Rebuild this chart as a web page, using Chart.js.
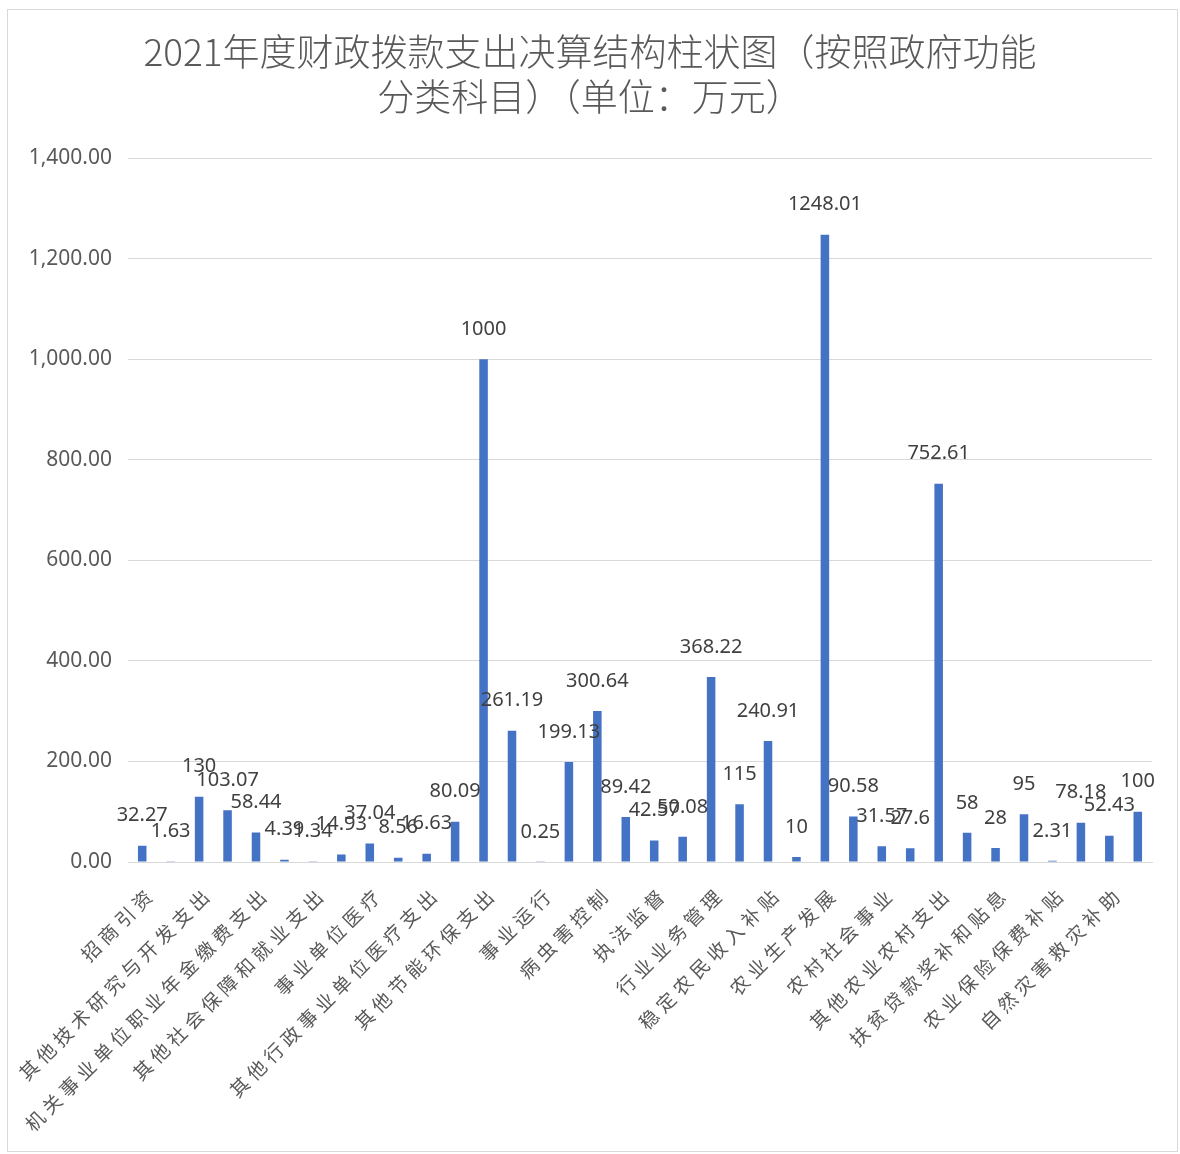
<!DOCTYPE html>
<html>
<head>
<meta charset="utf-8">
<script src="https://cdn.jsdelivr.net/npm/chart.js@4.4.0/dist/chart.umd.min.js"></script>
<style>
html,body{margin:0;padding:0;background:#fff;}
#wrap{position:absolute;left:0;top:0;width:1180px;height:1154px;}
</style>
</head>
<body>
<div id="wrap"><canvas id="c"></canvas></div>
<script>
const titleLines = ['2021年度财政拨款支出决算结构柱状图（按照政府功能', '分类科目）（单位：万元）'];

const categories = [
  '招商引资', '其他商贸事务支出', '其他技术研究与开发支出', '机关事业单位基本养老保险缴费支出',
  '机关事业单位职业年金缴费支出', '死亡抚恤', '其他社会保障和就业支出', '行政单位医疗',
  '事业单位医疗', '公务员医疗补助', '其他行政事业单位医疗支出', '其他卫生健康支出',
  '其他节能环保支出', '行政运行', '事业运行', '科技转化与推广服务',
  '病虫害控制', '农产品质量安全', '执法监督', '统计监测与信息服务',
  '行业业务管理', '防灾救灾', '稳定农民收入补贴', '农业结构调整补贴',
  '农业生产发展', '农村合作经济', '农村社会事业', '农业资源保护修复与利用',
  '其他农业农村支出', '对村民委员会和村党支部的补助', '扶贫贷款奖补和贴息', '其他扶贫支出',
  '农业保险保费补贴', '其他灾害防治及应急管理支出', '自然灾害救灾补助', '其他自然灾害救灾支出'
];

const values = [
  32.27, 1.63, 130, 103.07,
  58.44, 4.39, 1.34, 14.93,
  37.04, 8.56, 16.63, 80.09,
  1000, 261.19, 0.25, 199.13,
  300.64, 89.42, 42.57, 50.08,
  368.22, 115, 240.91, 10,
  1248.01, 90.58, 31.57, 27.6,
  752.61, 58, 28, 95,
  2.31, 78.18, 52.43, 100
];

const yMin = 0, yMax = 1400, yStep = 200;

const framePlugin = {
  id: 'frame',
  beforeDraw(chart) {
    const ctx = chart.ctx;
    ctx.fontKerning = 'none';
    ctx.save();
    ctx.fillStyle = '#ffffff';
    ctx.fillRect(0, 0, chart.width, chart.height);
    ctx.strokeStyle = '#d9d9d9';
    ctx.lineWidth = 1;
    ctx.strokeRect(7.5, 9.5, 1170, 1142);
    ctx.restore();
    // wider character spacing for the rotated category labels
    const xs = chart.scales.x;
    if (xs && !xs._spaced) {
      const orig = xs.drawLabels;
      xs.drawLabels = function (area) {
        const c = this.ctx;
        const prev = c.letterSpacing;
        c.letterSpacing = '5px';
        orig.call(this, area);
        c.letterSpacing = prev || '0px';
      };
      xs._spaced = true;
    }
  }
};

const dataLabelPlugin = {
  id: 'dataLabels',
  afterDatasetsDraw(chart) {
    const ctx = chart.ctx;
    const meta = chart.getDatasetMeta(0);
    ctx.save();
    ctx.font = '20px "Noto Sans"';
    ctx.fillStyle = '#404040';
    ctx.textAlign = 'center';
    ctx.textBaseline = 'middle';
    meta.data.forEach((bar, i) => {
      ctx.fillText(String(values[i]), bar.x, bar.y - 30);
    });
    ctx.restore();
  }
};

new Chart(document.getElementById('c'), {
  type: 'bar',
  data: {
    labels: categories,
    datasets: [{
      data: values,
      backgroundColor: '#4472C4',
      barPercentage: 0.3,
      categoryPercentage: 1
    }]
  },
  options: {
    responsive: true,
    maintainAspectRatio: false,
    animation: false,
    layout: { padding: { left: 0, right: 0, top: 0, bottom: 10 } },
    plugins: {
      legend: { display: false },
      tooltip: { enabled: false },
      title: {
        display: true,
        text: titleLines,
        color: '#595959',
        font: { family: '"Noto Sans CJK SC"', size: 37, weight: '300', lineHeight: 1.22 },
        padding: { top: 29, bottom: 39 }
      }
    },
    scales: {
      x: {
        grid: { display: false, drawTicks: false },
        border: { display: true, color: '#d9d9d9', width: 1 },
        ticks: {
          autoSkip: false,
          maxRotation: 45,
          minRotation: 45,
          padding: 20,
          labelOffset: 10,
          color: '#595959',
          font: { family: '"Noto Sans CJK SC"', size: 19 },
          callback: (v, i) => (i % 2 === 0 ? categories[i] : '')
        },
        afterFit(s) { s.height = 282; }
      },
      y: {
        min: yMin,
        max: yMax,
        grid: { color: '#d9d9d9', drawTicks: false },
        border: { display: false },
        ticks: {
          stepSize: yStep,
          padding: 16,
          color: '#595959',
          font: { family: '"Noto Sans"', size: 21 },
          callback: v => Number(v).toLocaleString('en-US', { minimumFractionDigits: 2, maximumFractionDigits: 2 })
        },
        afterFit(s) { s.width = 128; }
      },
      yRight: {
        position: 'right',
        display: true,
        grid: { display: false, drawTicks: false },
        border: { display: false },
        ticks: { display: false },
        afterFit(s) { s.width = 28; }
      }
    }
  },
  plugins: [framePlugin, dataLabelPlugin]
});
</script>
</body>
</html>
